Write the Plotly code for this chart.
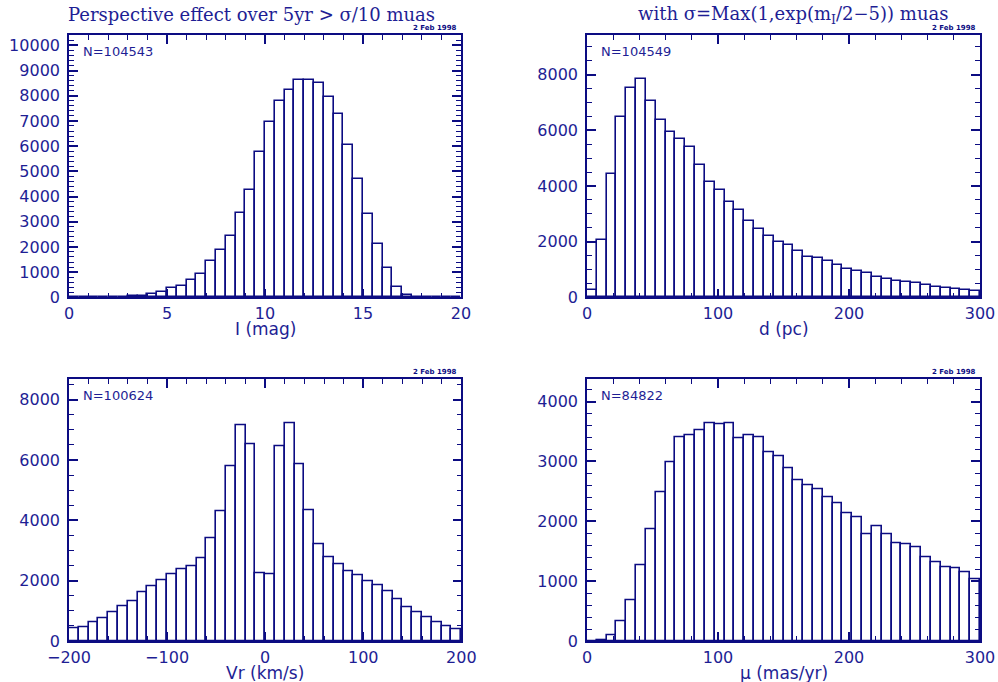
import numpy as np
import plotly.graph_objects as go

# ---------------- data ----------------
# Panel 1: I magnitude histogram, 0.5 mag bins from 0 to 20
imag_bin_width = 0.5
imag_counts = [5, 5, 10, 13, 20, 26, 40, 66, 132, 212,
               357, 437, 701, 939, 1429, 1865, 2447, 3334, 4247, 5755,
               6946, 7806, 8242, 8639, 8626, 8494, 7951, 7263, 6033, 4710,
               3294, 2104, 1177, 423, 93, 5, 0, 0, 0, 0]

# Panel 2: distance histogram, 7.5 pc bins from 0 to 300
dist_bin_width = 7.5
dist_counts = [263, 2047, 4417, 6476, 7517, 7828, 7038, 6380, 5925, 5674,
               5410, 4740, 4130, 3842, 3411, 3124, 2729, 2442, 2191, 1975,
               1867, 1652, 1460, 1412, 1293, 1149, 1017, 934, 874, 742,
               658, 575, 563, 515, 455, 383, 347, 287, 275, 215]

# Panel 3: radial velocity histogram, 10 km/s bins from -200 to 200
vr_bin_width = 10
vr_counts = [420, 453, 619, 751, 939, 1149, 1326, 1602, 1812, 2011,
             2210, 2365, 2486, 2740, 3392, 4298, 5790, 7149, 6520, 2254,
             2221, 6453, 7216, 5857, 4321, 3216, 2774, 2530, 2298, 2188,
             1967, 1845, 1646, 1381, 1116, 950, 785, 619, 486, 387]

# Panel 4: proper motion histogram, 7.5 mas/yr bins from 0 to 300
mu_bin_width = 7.5
mu_counts = [0, 11, 100, 323, 685, 1259, 1866, 2485, 2986, 3409,
             3443, 3521, 3638, 3621, 3643, 3393, 3437, 3409, 3159, 3092,
             2886, 2685, 2602, 2535, 2407, 2295, 2134, 2067, 1788, 1916,
             1783, 1627, 1616, 1571, 1398, 1315, 1237, 1214, 1148, 1025]

n_labels = ["N=104543", "N=104549", "N=100624", "N=84822"]
x_titles = ["I (mag)", "d (pc)", "Vr (km/s)", "\u03bc (mas/yr)"]
titles = ["Perspective effect over 5yr > \u03c3/10 muas",
          "with \u03c3=Max(1,exp(m<sub>I</sub>/2\u22125)) muas"]
date_label = "2 Feb 1998"

# ---------------- style ----------------
NAVY = "#0c0c82"
TXT = "#1e1e94"
W, H = 998, 682

panels = [
    dict(counts=imag_counts, w=imag_bin_width, x0=0, xr=[0, 20], yr=[0, 10410],
         xd=5, xm=1, yd=1000, ym=200, px=(69, 461), py=(35, 297.3)),
    dict(counts=dist_counts, w=dist_bin_width, x0=0, xr=[0, 300], yr=[0, 9420],
         xd=100, xm=20, yd=2000, ym=500, px=(587, 980), py=(35, 297.3)),
    dict(counts=vr_counts, w=vr_bin_width, x0=-200, xr=[-200, 200], yr=[0, 8674],
         xd=100, xm=20, yd=2000, ym=500, px=(69, 461.3), py=(379.3, 641)),
    dict(counts=mu_counts, w=mu_bin_width, x0=0, xr=[0, 300], yr=[0, 4373],
         xd=100, xm=20, yd=1000, ym=200, px=(587, 980), py=(379.3, 641)),
]

fig = go.Figure()
annotations = []
tickfont = dict(family="DejaVu Sans", size=16, color=TXT)

for i, p in enumerate(panels):
    k = "" if i == 0 else str(i + 1)
    n = len(p["counts"])
    centers = p["x0"] + p["w"] * (np.arange(n) + 0.5)
    fig.add_trace(go.Bar(
        x=centers, y=p["counts"], width=p["w"],
        marker=dict(color="white", line=dict(color=NAVY, width=1.6)),
        xaxis="x" + k, yaxis="y" + k, showlegend=False, hoverinfo="x+y",
    ))
    xd = [p["px"][0] / W, p["px"][1] / W]
    yd = [(H - p["py"][1]) / H, (H - p["py"][0]) / H]
    common = dict(showgrid=False, zeroline=False, showline=True, linecolor=NAVY,
                  linewidth=1.6, mirror="allticks", ticks="inside", tickcolor=NAVY,
                  tickwidth=1.5, ticklen=9, tickfont=tickfont, automargin=False,
                  tickformat="d")
    fig.layout["xaxis" + k] = dict(
        common, domain=xd, range=p["xr"], dtick=p["xd"], tick0=0,
        anchor="y" + k, ticklabelstandoff=1,
        minor=dict(dtick=p["xm"], ticks="inside", ticklen=5, tickcolor=NAVY,
                   tickwidth=1.2, showgrid=False))
    fig.layout["yaxis" + k] = dict(
        common, domain=yd, range=p["yr"], dtick=p["yd"], tick0=0,
        anchor="x" + k, ticklabelstandoff=4,
        minor=dict(dtick=p["ym"], ticks="inside", ticklen=5, tickcolor=NAVY,
                   tickwidth=1.2, showgrid=False))
    # N label
    annotations.append(dict(x=(p["px"][0] + 12) / W, y=(H - p["py"][0] - 16) / H,
                            xref="paper", yref="paper", text=n_labels[i],
                            showarrow=False, xanchor="left", yanchor="middle",
                            font=dict(family="DejaVu Sans", size=13, color=TXT)))
    # date label
    annotations.append(dict(x=(p["px"][1] - 2) / W, y=(H - p["py"][0] + 1) / H,
                            xref="paper", yref="paper", text="<b>" + date_label + "</b>",
                            showarrow=False, xanchor="right", yanchor="bottom",
                            font=dict(family="DejaVu Sans", size=7, color=NAVY)))
    # x axis title
    annotations.append(dict(x=(p["px"][0] + p["px"][1]) / 2 / W,
                            y=(H - p["py"][1] - 32) / H,
                            xref="paper", yref="paper", text=x_titles[i],
                            showarrow=False, xanchor="center", yanchor="middle",
                            font=dict(family="DejaVu Sans", size=17, color=TXT)))

annotations.append(dict(x=252 / W, y=(H - 15) / H, xref="paper", yref="paper",
                        text=titles[0], showarrow=False, xanchor="center",
                        yanchor="middle",
                        font=dict(family="DejaVu Serif", size=18, color=TXT)))
annotations.append(dict(x=793 / W, y=(H - 15) / H, xref="paper", yref="paper",
                        text=titles[1], showarrow=False, xanchor="center",
                        yanchor="middle",
                        font=dict(family="DejaVu Serif", size=18, color=TXT)))

fig.update_layout(width=W, height=H,
                  margin=dict(l=0, r=0, t=0, b=0, autoexpand=False),
                  paper_bgcolor="white", plot_bgcolor="white",
                  bargap=0, annotations=annotations)

fig.write_html("out.html", config={"displayModeBar": False},
               post_script="document.body.style.margin='0';document.body.style.padding='0';")
